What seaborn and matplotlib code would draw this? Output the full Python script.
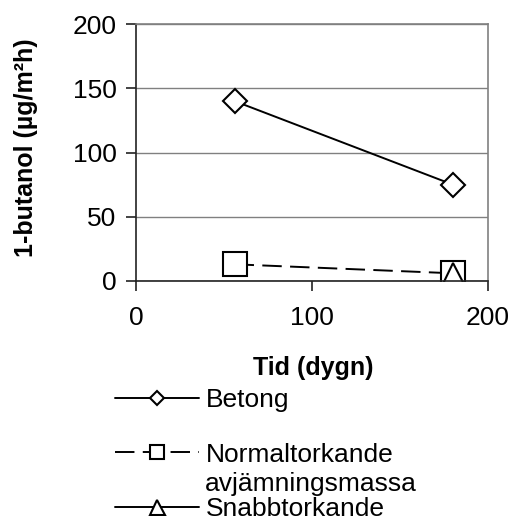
import pandas as pd
import matplotlib
matplotlib.use("Agg")
import matplotlib.pyplot as plt
import seaborn as sns

# data
tid_betong = [56, 180]
val_betong = [140, 75]
tid_normal = [56, 180]
val_normal = [13, 6]
tid_snabb = [180]
val_snabb = [5]

sns.set_style("white")
plt.rcParams['font.family'] = ['Liberation Sans', 'DejaVu Sans']
plt.rcParams['lines.scale_dashes'] = False
plt.rcParams['text.color'] = 'black'
plt.rcParams['axes.labelcolor'] = 'black'
plt.rcParams['xtick.color'] = 'black'
plt.rcParams['ytick.color'] = 'black'

fig = plt.figure(figsize=(5.12, 5.16), dpi=100)
ax = fig.add_axes([136/512, 1 - 281/516, 352/512, 257/516])

mk = dict(color='black', markerfacecolor='white', markeredgecolor='black',
          markeredgewidth=1.5, linewidth=1.4)

sns.lineplot(x=tid_betong, y=val_betong, ax=ax, marker='D', markersize=12.5,
             label='Betong', **mk)
sns.lineplot(x=tid_normal, y=val_normal, ax=ax, marker='s', markersize=17,
             linestyle=(0, (14, 6)), label='Normaltorkande', **mk)
sns.lineplot(x=tid_snabb, y=val_snabb, ax=ax, marker='^', markersize=18,
             label='Snabbtorkande', **mk)

ax.set_xlim(0, 200)
ax.set_ylim(0, 200)
ax.set_xticks([0, 100, 200])
ax.set_yticks([0, 50, 100, 150, 200])
ax.yaxis.grid(True, color='#808080', linewidth=1)
ax.set_axisbelow(True)

for s in ['top', 'right']:
    ax.spines[s].set_color('#808080')
    ax.spines[s].set_linewidth(1.2)
for s in ['left', 'bottom']:
    ax.spines[s].set_color('#222222')
    ax.spines[s].set_linewidth(1.2)

ax.tick_params(axis='both', which='both', direction='out', length=7, width=1.2,
               color='#222222', labelsize=19, left=True, bottom=True)
ax.tick_params(axis='y', pad=7)
ax.tick_params(axis='x', pad=11)

ax.set_xlabel('Tid (dygn)', fontsize=18, fontweight='bold')
ax.set_ylabel('1-butanol (µg/m²h)', fontsize=18, fontweight='bold')
ax.xaxis.set_label_coords(0.503, -0.29)
ax.yaxis.set_label_coords(-0.278, 0.52)

ax.get_legend().remove()
handles, labels = ax.get_legend_handles_labels()
fig.legend(handles, labels, loc='upper left', bbox_to_anchor=(115/512, 1 - 388/516),
           frameon=False, fontsize=19, handlelength=3.2, handletextpad=0.25,
           labelspacing=1.16, borderpad=0, borderaxespad=0, markerscale=0.6)
fig.text(205/512, 1 - 484/516, 'avjämningsmassa', fontsize=19, ha='left', va='center')

fig.savefig('out.png', dpi=100)
